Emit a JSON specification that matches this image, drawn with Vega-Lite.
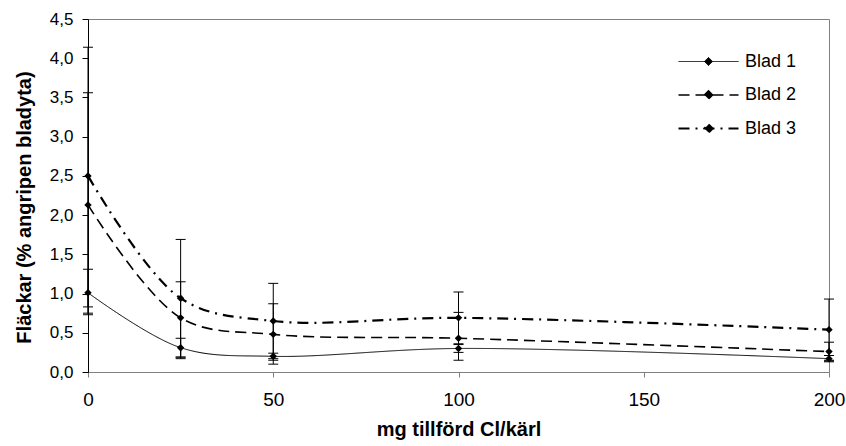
{
  "$schema": "https://vega.github.io/schema/vega-lite/v6.json",
  "width": 741,
  "height": 353,
  "autosize": {"type": "none"},
  "padding": {"left": 88, "top": 19, "right": 17, "bottom": 74},
  "background": "white",
  "config": {
    "view": {"stroke": "#808080", "strokeWidth": 1},
    "font": "Liberation Sans",
    "axisX": {
      "grid": false,
      "domainColor": "#808080",
      "tickColor": "#808080",
      "tickSize": 5,
      "labelFlush": false,
      "labelOverlap": false,
      "labelFont": "Liberation Sans",
      "labelFontSize": 19,
      "labelColor": "black",
      "labelPadding": 13,
      "titleFont": "Liberation Sans",
      "titleFontSize": 20,
      "titleFontWeight": "bold",
      "titleColor": "black",
      "titlePadding": 10
    },
    "axisY": {
      "grid": false,
      "domainColor": "black",
      "tickColor": "black",
      "tickSize": 6,
      "labelFlush": false,
      "labelOverlap": false,
      "labelFont": "Liberation Sans",
      "labelFontSize": 17,
      "labelColor": "black",
      "labelPadding": 9,
      "titleFont": "Liberation Sans",
      "titleFontSize": 20,
      "titleFontWeight": "bold",
      "titleColor": "black",
      "titleX": -64,
      "titleY": 188,
      "titleAngle": 270,
      "titleAlign": "center",
      "titleBaseline": "middle"
    }
  },
  "data": {
    "values": [
      {"series": "Blad 1", "x": 0, "y": 1.01, "lo": 0.73, "hi": 1.31},
      {"series": "Blad 1", "x": 25, "y": 0.31, "lo": 0.17, "hi": 0.43},
      {"series": "Blad 1", "x": 50, "y": 0.20, "lo": 0.15, "hi": 0.24},
      {"series": "Blad 1", "x": 100, "y": 0.30, "lo": 0.25, "hi": 0.35},
      {"series": "Blad 1", "x": 200, "y": 0.17, "lo": 0.13, "hi": 0.21},
      {"series": "Blad 2", "x": 0, "y": 2.13, "lo": 0.75, "hi": 3.56},
      {"series": "Blad 2", "x": 25, "y": 0.69, "lo": 0.19, "hi": 1.15},
      {"series": "Blad 2", "x": 50, "y": 0.48, "lo": 0.10, "hi": 0.87},
      {"series": "Blad 2", "x": 100, "y": 0.43, "lo": 0.15, "hi": 0.76},
      {"series": "Blad 2", "x": 200, "y": 0.26, "lo": 0.14, "hi": 0.38},
      {"series": "Blad 3", "x": 0, "y": 2.50, "lo": 0.83, "hi": 4.14},
      {"series": "Blad 3", "x": 25, "y": 0.94, "lo": 0.19, "hi": 1.69},
      {"series": "Blad 3", "x": 50, "y": 0.65, "lo": 0.17, "hi": 1.13},
      {"series": "Blad 3", "x": 100, "y": 0.69, "lo": 0.36, "hi": 1.02},
      {"series": "Blad 3", "x": 200, "y": 0.54, "lo": 0.15, "hi": 0.93}
    ]
  },
  "layer": [
    {
      "mark": {"type": "rule", "color": "black", "strokeWidth": 1},
      "encoding": {
        "x": {"field": "x", "type": "quantitative", "scale": {"domain": [0, 200], "nice": false, "padding": 0}, "title": "mg tillförd Cl/kärl", "axis": {"values": [0, 50, 100, 150, 200]}},
        "y": {"field": "lo", "type": "quantitative", "scale": {"domain": [0, 4.5], "nice": false, "padding": 0}, "title": "Fläckar (% angripen bladyta)", "axis": {"values": [0, 0.5, 1, 1.5, 2, 2.5, 3, 3.5, 4, 4.5], "labelExpr": "replace(format(datum.value, '.1f'), '.', ',')"}},
        "y2": {"field": "hi"}
      }
    },
    {
      "mark": {"type": "tick", "orient": "horizontal", "color": "black", "size": 10, "thickness": 1, "opacity": 1},
      "encoding": {
        "x": {"field": "x", "type": "quantitative", "title": "mg tillförd Cl/kärl", "axis": {"values": [0, 50, 100, 150, 200]}},
        "y": {"field": "lo", "type": "quantitative", "title": "Fläckar (% angripen bladyta)", "axis": {"values": [0, 0.5, 1, 1.5, 2, 2.5, 3, 3.5, 4, 4.5], "labelExpr": "replace(format(datum.value, '.1f'), '.', ',')"}}
      }
    },
    {
      "mark": {"type": "tick", "orient": "horizontal", "color": "black", "size": 10, "thickness": 1, "opacity": 1},
      "encoding": {
        "x": {"field": "x", "type": "quantitative", "title": "mg tillförd Cl/kärl", "axis": {"values": [0, 50, 100, 150, 200]}},
        "y": {"field": "hi", "type": "quantitative", "title": "Fläckar (% angripen bladyta)", "axis": {"values": [0, 0.5, 1, 1.5, 2, 2.5, 3, 3.5, 4, 4.5], "labelExpr": "replace(format(datum.value, '.1f'), '.', ',')"}}
      }
    },
    {
      "mark": {"type": "line", "interpolate": "catmull-rom", "color": "black"},
      "encoding": {
        "x": {"field": "x", "type": "quantitative", "title": "mg tillförd Cl/kärl", "axis": {"values": [0, 50, 100, 150, 200]}},
        "y": {"field": "y", "type": "quantitative", "title": "Fläckar (% angripen bladyta)", "axis": {"values": [0, 0.5, 1, 1.5, 2, 2.5, 3, 3.5, 4, 4.5], "labelExpr": "replace(format(datum.value, '.1f'), '.', ',')"}},
        "strokeDash": {
          "field": "series", "type": "nominal",
          "scale": {"domain": ["Blad 1", "Blad 2", "Blad 3"], "range": [[1, 0], [11, 6], [11, 6, 2, 6]]},
          "legend": {
            "title": null,
            "orient": "none",
            "legendX": 604,
            "legendY": 27,
            "padding": 0,
            "symbolType": "M-2,0L2,0M0,-0.27L0.27,0L0,0.27L-0.27,0Z",
            "symbolSize": 900,
            "symbolStrokeColor": "black",
            "symbolFillColor": "black",
            "labelOffset": 20,
            "rowPadding": 8,
            "labelFont": "Liberation Sans",
            "labelFontSize": 18,
            "labelColor": "black",
            "encode": {"symbols": {"update": {"fill": {"value": "black"}, "stroke": {"value": "black"}, "strokeWidth": {"value": 1.2}}}}
          }
        },
        "strokeWidth": {
          "field": "series", "type": "nominal",
          "scale": {"domain": ["Blad 1", "Blad 2", "Blad 3"], "range": [1, 2.2, 2.2]},
          "legend": null
        }
      }
    },
    {
      "mark": {"type": "point", "shape": "diamond", "filled": true, "color": "black", "size": 55, "opacity": 1},
      "encoding": {
        "x": {"field": "x", "type": "quantitative", "title": "mg tillförd Cl/kärl", "axis": {"values": [0, 50, 100, 150, 200]}},
        "y": {"field": "y", "type": "quantitative", "title": "Fläckar (% angripen bladyta)", "axis": {"values": [0, 0.5, 1, 1.5, 2, 2.5, 3, 3.5, 4, 4.5], "labelExpr": "replace(format(datum.value, '.1f'), '.', ',')"}}
      }
    }
  ]
}
